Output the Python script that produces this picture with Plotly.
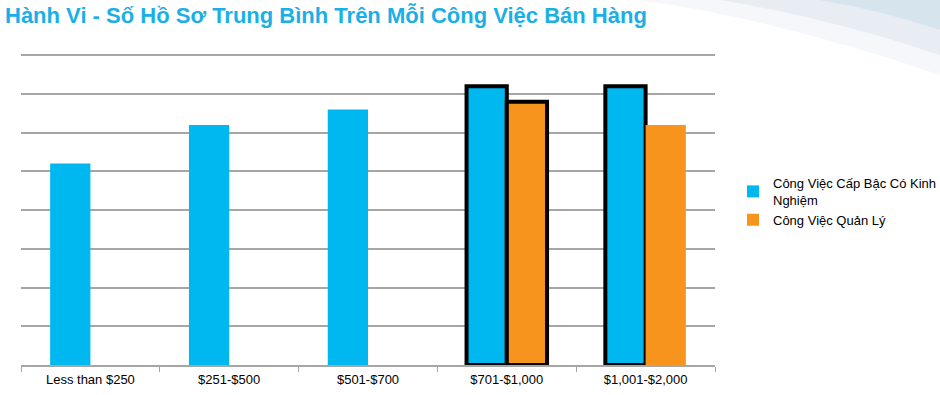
import plotly.graph_objects as go

categories = ["Less than $250", "$251-$500", "$501-$700", "$701-$1,000", "$1,001-$2,000"]
experienced = [5.2, 6.2, 6.6, 7.2, 7.2]
manager = [None, None, None, 6.8, 6.2]
series_names = ["Công Việc Cấp Bậc Có Kinh<br>Nghiệm", "Công Việc Quản Lý"]
exp_outline = [0, 0, 0, 4, 4]
mgr_outline = [0, 0, 0, 4, 0]

BLUE = "#00B8F0"
ORANGE = "#F7941E"

L, R, T, B = 21, 225, 54, 30
W, H = 940, 395
pw, ph = W - L - R, H - T - B

def px(x):
    return (x - L) / pw

def py(y):
    return (H - B - y) / ph

fig = go.Figure()
fig.add_trace(go.Bar(x=categories, y=experienced, name=series_names[0],
                     marker=dict(color=BLUE, line=dict(color="black", width=exp_outline))))
fig.add_trace(go.Bar(x=categories, y=manager, name=series_names[1],
                     marker=dict(color=ORANGE, line=dict(color="black", width=mgr_outline))))

# subtle decorative swoosh in top-right corner
shapes = []
layers = [
    ([(640, 0), (780, 20), (940, 75), (940, 0)], "rgba(232,237,243,0.45)"),
    ([(720, 0), (830, 18), (940, 55), (940, 0)], "rgba(215,223,234,0.45)"),
    ([(820, 0), (880, 10), (940, 30), (940, 0)], "rgba(198,220,233,0.5)"),
]
for pts, col in layers:
    (x0, y0), (x1, y1), (x2, y2), (x3, y3) = pts
    path = (f"M {px(x0)} {py(y0)} Q {px(x1)} {py(y1)} {px(x2)} {py(y2)} "
            f"L {px(x3)} {py(y3)} Z")
    shapes.append(dict(type="path", xref="paper", yref="paper", path=path,
                       fillcolor=col, line=dict(width=0), layer="below"))

fig.update_layout(
    width=W, height=H,
    margin=dict(l=L, r=R, t=T, b=B, pad=0, autoexpand=False),
    paper_bgcolor="white", plot_bgcolor="white",
    barmode="group", bargap=0.42, bargroupgap=0,
    font=dict(family="Liberation Sans, Arial, sans-serif", size=12, color="black"),
    title=dict(text="<b>Hành Vi - Số Hồ Sơ Trung Bình Trên Mỗi Công Việc Bán Hàng</b>",
               x=0, xanchor="left", xref="container", y=0.98, yanchor="top",
               pad=dict(l=5, t=0),
               font=dict(family="Liberation Sans, Arial", size=22, color="#1AAFE6")),
    legend=dict(x=733 / W, xref="container", xanchor="left",
                y=1 - 168 / H, yref="container", yanchor="top",
                font=dict(size=13, color="black"), bgcolor="rgba(0,0,0,0)",
                itemwidth=30, traceorder="normal"),
    shapes=shapes,
    xaxis=dict(showgrid=False, showline=True, linecolor="#A6A6A6", linewidth=1.5,
               ticks="outside", tickson="boundaries", ticklen=5, tickcolor="#A6A6A6",
               tickwidth=1, ticklabelstandoff=2, tickfont=dict(size=13, color="black")),
    yaxis=dict(range=[0, 8.03], tickvals=[1, 2, 3, 4, 5, 6, 7, 8], showgrid=True,
               gridcolor="#A6A6A6", gridwidth=1.5,
               showticklabels=False, zeroline=False, showline=False),
)

fig.write_html("out.html", config={"displayModeBar": False},
               post_script="document.body.style.margin='0px';document.body.style.overflow='hidden';")
